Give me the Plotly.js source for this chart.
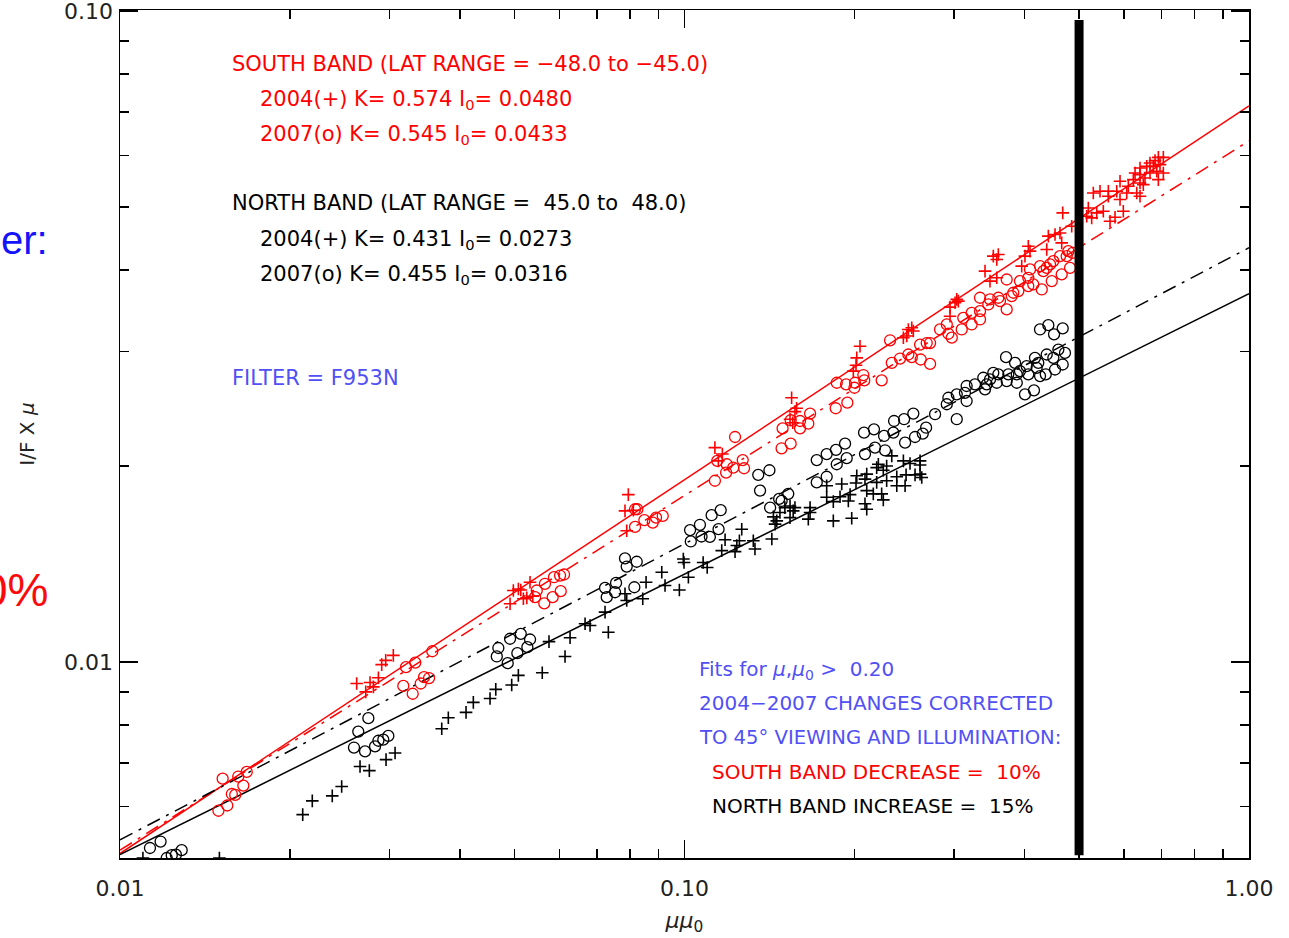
<!DOCTYPE html>
<html>
<head>
<meta charset="utf-8">
<script src="https://cdn.plot.ly/plotly-3.0.1.min.js"></script>
<style>
html,body{margin:0;padding:0;background:#fff;}
#chart{width:1289px;height:938px;}
</style>
</head>
<body>
<div id="chart"></div>
<script>
// ---- South band, 2004 (+) ----
const south2004X = [0.02626,0.02773,0.02869,0.02725,0.02811,0.02908,0.02956,0.03049,
0.04909,0.04975,0.05078,0.05128,0.05326,0.05183,0.05255,0.05385,
0.07952,0.07845,0.08116,0.07900,
0.1132,0.1148,0.1167,
0.1548,0.1580,0.1569,0.1538,0.1555,
0.2046,0.2019,0.2013,0.1991,
0.2442,0.2476,0.2527,0.2543,0.2492,
0.2954,0.2954,0.3015,0.3056,0.3036,
0.3407,0.3477,0.3574,0.3524,0.3597,0.3574,
0.3957,0.4010,0.4065,0.4093,
0.4382,0.4411,0.4533,0.4626,0.4658,0.4677,0.4852,
0.5158,0.5192,0.5264,0.5373,0.5520,0.5790,0.5673,0.5989,
0.5299,0.5446,0.5634,0.5634,0.5830,0.5909,0.5909,0.6073,0.6113,0.6239,0.6326,0.6411,
0.6283,0.6411,0.6411,0.6411,0.6498,0.6543,0.6589,0.6678,0.6678,0.6769,0.6816,0.6864,0.6909,0.6909,0.6956,0.7051,0.7051];
const south2004Y = [0.00927,0.00930,0.00946,0.00900,0.00916,0.00991,0.01006,0.01024,
0.01229,0.01288,0.01295,0.01290,0.01326,0.01251,0.01255,0.01262,
0.01808,0.01707,0.01711,0.01591,
0.02135,0.02037,0.02087,
0.02547,0.02454,0.02425,0.02361,0.02332,
0.03056,0.02933,0.02858,0.02799,
0.03150,0.03169,0.03262,0.03225,0.03243,
0.03510,0.03399,0.03564,0.03585,0.03607,
0.03986,0.03848,0.03893,0.04203,0.04228,0.04154,
0.04058,0.04203,0.04354,0.04278,
0.04304,0.04511,0.04538,0.04563,0.04406,0.04898,0.04673,
0.04841,0.04985,0.04812,0.04898,0.04927,0.04824,0.04756,0.04927,
0.05256,0.05288,0.05288,0.05195,0.05288,0.05478,0.05135,0.05256,0.05382,0.05510,0.05256,0.05195,
0.05641,0.05740,0.05609,0.05445,0.05414,0.05542,0.05775,0.05843,0.05641,0.05775,0.05893,0.05675,0.05962,0.05510,0.05810,0.05962,0.05641];

// ---- South band, 2007 (o) ----
const south2007X = [0.01520,0.01494,0.01549,0.01578,0.01600,0.01620,0.01654,0.01677,
0.03176,0.03211,0.03300,0.03335,0.03410,0.03456,0.03528,0.03575,
0.05474,0.05660,0.05872,0.06019,0.06118,0.05436,0.05644,0.05841,0.06036,
0.08173,0.08250,0.08173,0.08490,0.08786,0.08905,0.09151,
0.1229,0.1143,0.1188,0.1185,0.1220,0.1268,0.1275,0.1132,
0.1492,0.1542,0.1602,0.1657,0.1669,0.1602,0.1486,0.1542,
0.1861,0.1933,0.1943,0.1853,0.2005,0.2000,0.2074,0.2082,0.2235,
0.2329,0.2409,0.2492,0.2527,0.2614,0.2621,0.2686,0.2313,0.2723,0.2723,
0.2836,0.2915,0.2934,0.2975,0.3098,0.3118,0.3226,0.3226,0.3338,0.3338,0.3338,0.3453,0.3477,0.3597,0.3622,
0.3722,0.3722,0.3799,0.3824,0.3903,0.3929,0.4065,0.4065,0.4148,0.4093,
0.4264,0.4294,0.4322,0.4382,0.4442,0.4473,0.4502,0.4626,0.4658,0.4754,0.4786,0.4819,0.4872];
const south2007Y = [0.00662,0.00591,0.00602,0.00627,0.00625,0.00667,0.00646,0.00678,
0.00919,0.00982,0.00894,0.00998,0.00927,0.00948,0.00945,0.01039,
0.01288,0.01319,0.01350,0.01358,0.01363,0.01258,0.01231,0.01258,0.01285,
0.01717,0.01717,0.01613,0.01652,0.01638,0.01667,0.01677,
0.02217,0.02037,0.02013,0.01955,0.01989,0.02043,0.01985,0.01899,
0.02286,0.02352,0.02346,0.02324,0.02408,0.02286,0.02130,0.02165,
0.02686,0.02671,0.02503,0.02454,0.02686,0.02639,0.02760,0.02709,0.02709,
0.02882,0.02926,0.02968,0.02940,0.03074,0.02916,0.03091,0.03121,0.02871,0.03091,
0.03243,0.03301,0.03194,0.03150,0.03243,0.03379,0.03301,0.03439,0.03460,0.03360,0.03628,0.03543,0.03607,0.03628,0.03585,
0.03481,0.03870,0.03650,0.03693,0.03715,0.03848,0.03893,0.03781,0.03803,0.04010,
0.04058,0.03736,0.03986,0.04033,0.04082,0.03848,0.04130,0.04203,0.03940,0.04203,0.04278,0.04033,0.04252];

// ---- North band, 2004 (+) ----
const north2004X = [0.01098,0.01500,
0.02107,0.02191,0.02377,0.02470,0.02662,0.02765,0.02960,0.03071,
0.03715,0.03816,0.04102,0.04226,0.04524,0.04631,0.04942,0.05078,0.05598,0.06143,0.05754,0.06270,0.06666,0.06803,0.07232,0.07330,
0.07845,0.07900,0.08434,0.08549,0.09114,0.09237,0.09793,0.09952,0.09980,0.1016,0.1079,0.1097,
0.1164,0.1180,0.1229,0.1238,0.1251,0.1263,0.1324,0.1333,
0.1428,0.1447,0.1437,0.1538,0.1569,0.1506,0.1538,0.1657,0.1669,0.1669,0.1558,0.1476,0.1457,
0.1786,0.1786,0.1835,0.1835,0.1886,0.1899,0.1951,0.1965,0.1978,0.2019,0.2013,
0.2088,0.2103,0.2103,0.2088,0.2103,0.2160,0.2190,0.2190,0.2205,0.2235,0.2250,0.2250,0.2281,0.2281,0.2329,
0.2377,0.2377,0.2442,0.2459,0.2469,0.2509,0.2561,0.2614,0.2614,0.2614,0.2632];
const north2004Y = [0.00500,0.00500,
0.00583,0.00612,0.00623,0.00644,0.00691,0.00681,0.00708,0.00725,
0.00790,0.00821,0.00837,0.00867,0.00879,0.00908,0.00922,0.00954,0.00963,0.01020,0.01075,0.01090,0.01145,0.01138,0.01193,0.01111,
0.01273,0.01243,0.01251,0.01326,0.01374,0.01311,0.01290,0.01440,0.01422,0.01350,0.01422,0.01397,
0.01483,0.01541,0.01478,0.01510,0.01536,0.01600,0.01536,0.01492,
0.01545,0.01629,0.01671,0.01737,0.01727,0.01727,0.01667,0.01658,0.01727,0.01697,0.01707,0.01697,0.01648,
0.01866,0.01791,0.01764,0.01648,0.01795,0.01877,0.01768,0.01808,0.01663,0.01933,0.01884,
0.01751,0.01717,0.01944,0.01910,0.01834,0.01813,0.01989,0.01888,0.02013,0.01813,0.01775,0.01971,0.01899,0.02001,0.02074,
0.01926,0.01866,0.02037,0.01866,0.01939,0.02018,0.01939,0.02008,0.02037,0.01944,0.01921];

// ---- North band, 2007 (o) ----
const north2007X = [0.01130,0.01180,0.01210,0.01235,0.01256,0.01286,
0.02643,0.02754,0.02597,0.02717,0.02830,0.02869,0.02927,0.02988,
0.04680,0.04650,0.04862,0.04909,0.05057,0.05128,0.05268,0.05326,
0.07232,0.07282,0.07845,0.08230,0.07900,0.07564,0.07534,0.08150,
0.1023,0.1065,0.1026,0.1072,0.1109,0.1117,0.1159,0.1149,
0.1351,0.1361,0.1414,0.1471,0.1527,0.1418,0.1486,
0.1715,0.1786,0.1855,0.1925,0.1861,0.1938,0.2088,0.2175,0.2266,0.1715,0.1786,
0.2080,0.2166,0.2257,0.2344,0.2351,0.2449,0.2543,0.2459,0.2561,0.2643,0.2679,0.2779,
0.3036,0.2915,0.2934,0.3036,0.3139,0.3161,0.3161,0.3270,0.3407,0.3383,0.3430,0.3477,0.3524,0.3574,0.3597,
0.3712,0.3722,0.3747,0.3851,0.3878,0.3878,0.3929,0.4010,0.4038,0.4065,0.4160,0.4177,0.4206,0.4234,
0.4264,0.4264,0.4365,0.4382,0.4411,0.4502,0.4515,0.4533,0.4595,0.4677,0.4677,0.4721];
const north2007Y = [0.00518,0.00530,0.00500,0.00505,0.00506,0.00514,
0.00782,0.00820,0.00739,0.00729,0.00742,0.00757,0.00760,0.00770,
0.01051,0.01020,0.00996,0.01086,0.01032,0.01105,0.01054,0.01083,
0.01300,0.01258,0.01443,0.01426,0.01402,0.01323,0.01280,0.01303,
0.01595,0.01625,0.01532,0.01559,0.01557,0.01681,0.01711,0.01600,
0.01939,0.01834,0.01971,0.01781,0.01813,0.01727,0.01768,
0.02043,0.02087,0.02118,0.02165,0.02013,0.02057,0.02087,0.02135,0.02115,0.01888,0.01926,
0.02251,0.02278,0.02225,0.02251,0.02346,0.02361,0.02408,0.02173,0.02217,0.02244,0.02291,0.02403,
0.02361,0.02489,0.02547,0.02578,0.02592,0.02518,0.02655,0.02671,0.02624,0.02734,0.02671,0.02718,0.02782,0.02686,0.02767,
0.02940,0.02702,0.02767,0.02882,0.02767,0.02686,0.02799,0.02578,0.02848,0.02767,0.02615,0.02933,0.02831,0.02882,
0.02750,0.03243,0.02767,0.02968,0.03293,0.02933,0.03188,0.02815,0.03020,0.03255,0.02865,0.02985];

// ---- Fit lines (end values read at mu*mu0 = 0.01 and 1.0) ----
const fitX = [0.01, 1.0];
const southFit2004Y = [0.00508, 0.0715];
const southFit2007Y = [0.00514, 0.0632];
const northFit2004Y = [0.00506, 0.0368];
const northFit2007Y = [0.00533, 0.0433];

// ---- Vertical marker at mu*mu0 = 0.5 (45 deg viewing and illumination) ----
const markerX = [0.5, 0.5];
const markerY = [0.00505, 0.0969];

// ---- Axis ticks ----
const xTickVals = [0.01, 0.1, 1.0];
const xTickText = ["0.01", "0.10", "1.00"];
const xMinorVals = [0.02,0.03,0.04,0.05,0.06,0.07,0.08,0.09,0.2,0.3,0.4,0.5,0.6,0.7,0.8,0.9];
const yTickVals = [0.01, 0.1];
const yTickText = ["0.01", "0.10"];
const yMinorVals = [0.006,0.007,0.008,0.009,0.02,0.03,0.04,0.05,0.06,0.07,0.08,0.09];

const RED = 'rgb(255,0,0)';
const BLUE = 'rgb(80,80,245)';
const FONT = 'DejaVu Sans, Liberation Sans, sans-serif';
const DASHDOT = '14px,7px,3px,7px';

const traces = [
  {x: fitX, y: southFit2004Y, mode: 'lines', line: {color: RED, width: 1.5}, hoverinfo: 'skip'},
  {x: fitX, y: southFit2007Y, mode: 'lines', line: {color: RED, width: 1.5, dash: DASHDOT}, hoverinfo: 'skip'},
  {x: fitX, y: northFit2004Y, mode: 'lines', line: {color: 'black', width: 1.5}, hoverinfo: 'skip'},
  {x: fitX, y: northFit2007Y, mode: 'lines', line: {color: 'black', width: 1.5, dash: DASHDOT}, hoverinfo: 'skip'},
  {x: south2004X, y: south2004Y, mode: 'markers', name: 'South 2004',
   marker: {symbol: 'cross-thin-open', size: 9, color: RED, line: {color: RED, width: 1.6}}},
  {x: south2007X, y: south2007Y, mode: 'markers', name: 'South 2007',
   marker: {symbol: 'circle-open', size: 11, color: RED, line: {color: RED, width: 1.3}}},
  {x: north2004X, y: north2004Y, mode: 'markers', name: 'North 2004',
   marker: {symbol: 'cross-thin-open', size: 9, color: 'black', line: {color: 'black', width: 1.6}}},
  {x: north2007X, y: north2007Y, mode: 'markers', name: 'North 2007',
   marker: {symbol: 'circle-open', size: 11, color: 'black', line: {color: 'black', width: 1.3}}},
  {x: markerX, y: markerY, mode: 'lines', line: {color: 'black', width: 9}, hoverinfo: 'skip'}
];

function px2paperX(px) { return (px - 120) / 1129; }
function px2paperY(py) { return (858 - py) / 848; }

function note(text, px, py, color, size, anchor, family) {
  return {
    text: text, xref: 'paper', yref: 'paper',
    x: px2paperX(px), y: px2paperY(py),
    xanchor: anchor || 'left', yanchor: 'middle',
    showarrow: false,
    font: {family: family || FONT, size: size || 20, color: color}
  };
}
const NB = '\u00A0';

const annotations = [
  note('SOUTH BAND (LAT RANGE = \u221248.0 to \u221245.0)', 230, 64, RED, 21),
  note('2004(+) K= 0.574 I<sub>0</sub>= 0.0480', 258, 100, RED, 21),
  note('2007(o) K= 0.545 I<sub>0</sub>= 0.0433', 258, 135, RED, 21),
  note('NORTH BAND (LAT RANGE = ' + NB + '45.0 to ' + NB + '48.0)', 230, 203, 'black', 21),
  note('2004(+) K= 0.431 I<sub>0</sub>= 0.0273', 258, 240, 'black', 21),
  note('2007(o) K= 0.455 I<sub>0</sub>= 0.0316', 258, 275, 'black', 21),
  note('FILTER = F953N', 230, 378, BLUE, 21),
  note('Fits for <i>\u03bc</i>,<i>\u03bc</i><sub>0</sub> > ' + NB + '0.20', 697, 670, BLUE),
  note('2004\u22122007 CHANGES CORRECTED', 697, 703, BLUE),
  note('TO 45\u00b0 VIEWING AND ILLUMINATION:', 697, 737, BLUE, 19.6),
  note('SOUTH BAND DECREASE = ' + NB + '10%', 710, 772, RED),
  note('NORTH BAND INCREASE = ' + NB + '15%', 710, 806, 'black'),
  note('er:', 50, 240, 'rgb(20,20,250)', 40, 'right', 'Liberation Sans, Arial, sans-serif'),
  note('0%', 50, 590, 'rgb(250,10,10)', 46, 'right', 'Liberation Sans, Arial, sans-serif')
];

const axisCommon = {
  type: 'log',
  showgrid: false, zeroline: false,
  showline: true, linecolor: 'black', linewidth: 1.5, mirror: 'allticks',
  ticks: 'inside', ticklen: 18, tickwidth: 1.5, tickcolor: 'black',
  tickmode: 'array', ticklabeloverflow: 'allow',
  tickfont: {family: FONT, size: 22, color: '#222'}
};

const layout = {
  width: 1289, height: 938,
  margin: {l: 120, r: 40, t: 10, b: 80, pad: 0},
  paper_bgcolor: 'white', plot_bgcolor: 'white',
  showlegend: false,
  xaxis: Object.assign({}, axisCommon, {
    range: [-2, 0],
    tickvals: xTickVals, ticktext: xTickText,
    minor: {tickmode: 'array', tickvals: xMinorVals, ticks: 'inside', ticklen: 9, tickwidth: 1.5, tickcolor: 'black', showgrid: false},
    ticklabelstandoff: 10,
    title: {text: '<i>\u03bc\u03bc</i><sub>0</sub>', font: {family: FONT, size: 22, color: '#222'}, standoff: 12}
  }),
  yaxis: Object.assign({}, axisCommon, {
    range: [Math.log10(0.005), Math.log10(0.1004)],
    tickvals: yTickVals, ticktext: yTickText,
    minor: {tickmode: 'array', tickvals: yMinorVals, ticks: 'inside', ticklen: 9, tickwidth: 1.5, tickcolor: 'black', showgrid: false},
    ticklabelstandoff: 1,
    title: {text: 'I/F X <i>\u03bc</i>', font: {family: FONT, size: 20, color: '#222'}, standoff: 24}
  }),
  annotations: annotations
};

Plotly.newPlot('chart', traces, layout, {displayModeBar: false, responsive: false, staticPlot: true});
</script>
</body>
</html>
